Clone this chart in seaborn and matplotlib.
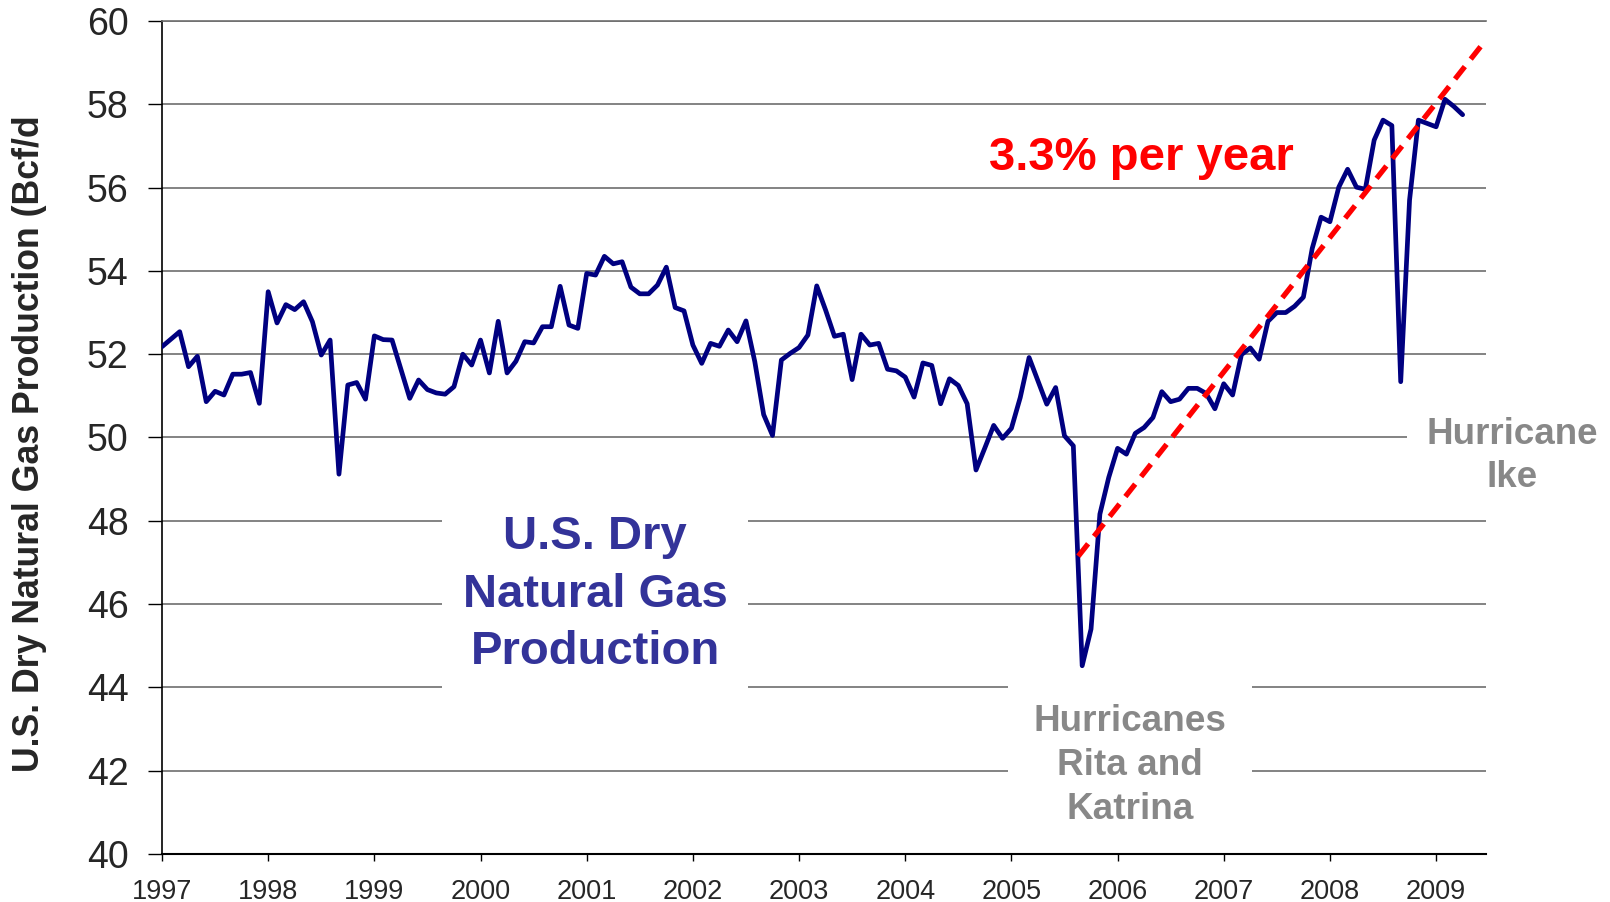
import numpy as np
import pandas as pd
import seaborn as sns
import matplotlib.pyplot as plt

# monthly dry gas production, Jan 1997 - Apr 2009 (Bcf/d)
production = [
    52.18, 52.36, 52.54, 51.70, 51.95, 50.86, 51.11, 51.02, 51.52, 51.52, 51.56, 50.82,  # 1997
    53.50, 52.75, 53.19, 53.07, 53.26, 52.78, 51.98, 52.34, 49.12, 51.26, 51.32, 50.92,  # 1998
    52.44, 52.35, 52.34, 51.64, 50.94, 51.38, 51.15, 51.07, 51.04, 51.22, 52.00, 51.74,  # 1999
    52.34, 51.55, 52.79, 51.55, 51.83, 52.30, 52.27, 52.66, 52.66, 53.63, 52.70, 52.62,  # 2000
    53.94, 53.90, 54.35, 54.17, 54.22, 53.61, 53.45, 53.45, 53.66, 54.09, 53.12, 53.04,  # 2001
    52.22, 51.78, 52.26, 52.19, 52.58, 52.30, 52.80, 51.82, 50.55, 50.05, 51.86, 52.02,  # 2002
    52.16, 52.46, 53.64, 53.06, 52.43, 52.48, 51.39, 52.48, 52.22, 52.26, 51.64, 51.60,  # 2003
    51.45, 50.97, 51.79, 51.73, 50.81, 51.41, 51.25, 50.81, 49.22, 49.75, 50.29, 49.98,  # 2004
    50.22, 50.96, 51.92, 51.36, 50.80, 51.20, 50.04, 49.80, 44.52, 45.40, 48.16, 49.04,  # 2005
    49.74, 49.60, 50.10, 50.24, 50.48, 51.10, 50.86, 50.92, 51.18, 51.18, 51.06, 50.69,  # 2006
    51.29, 51.02, 51.99, 52.15, 51.88, 52.79, 53.00, 53.00, 53.15, 53.37, 54.54, 55.29,  # 2007
    55.18, 56.01, 56.44, 56.01, 55.96, 57.14, 57.62, 57.49, 51.34, 55.70, 57.62, 57.54,  # 2008
    57.46, 58.12, 57.95, 57.75,                                                          # 2009
]
months = np.arange(len(production))
years = 1997 + months / 12

# straight trend line drawn on the chart
trend_x = [2005.63, 2009.43]
trend_y = [47.15, 59.42]

year_ticks = list(range(1997, 2010))
value_ticks = list(range(40, 61, 2))

df = pd.DataFrame({"year": years, "bcfd": production})
trend = pd.DataFrame({"year": trend_x, "bcfd": trend_y})

sns.set_style("white")
plt.rcParams["font.family"] = ["Liberation Sans", "DejaVu Sans"]

fig = plt.figure(figsize=(16.1, 9.02), dpi=100)
ax = fig.add_axes([162 / 1610, 1 - 854 / 902, (1486 - 162) / 1610, (854 - 21) / 902])

sns.lineplot(data=df, x="year", y="bcfd", color="#000080", lw=3.4, ax=ax, zorder=4)
sns.lineplot(data=trend, x="year", y="bcfd", color="#ff0000", lw=3.8,
             linestyle=(0, (3, 1.8)), ax=ax, zorder=5)

ax.set_xlim(1997, 2009.47)
ax.set_ylim(40, 60)
ax.set_xticks(year_ticks)
ax.set_yticks(value_ticks)
ax.set_xlabel("")
ax.set_ylabel("")

ax.set_axisbelow(True)
ax.yaxis.grid(True, color="#6e6e6e", lw=1.2)
ax.xaxis.grid(False)
ax.spines["right"].set_visible(False)
ax.spines["top"].set_color("#6e6e6e")
ax.spines["top"].set_linewidth(1.2)
ax.spines["left"].set_color("black")
ax.spines["bottom"].set_color("black")
ax.spines["left"].set_linewidth(1.2)
ax.spines["bottom"].set_linewidth(1.5)

ax.tick_params(axis="y", direction="out", length=10, width=1, color="black",
               labelsize=27, pad=14, left=True)
ax.tick_params(axis="x", direction="out", length=5, width=1, color="black",
               labelsize=19.5, pad=13, bottom=True)

# annotations
ax.text(2006.228, 56.71, "3.3% per year", color="#ff0000", fontsize=34,
        fontweight="bold", ha="center", va="center", zorder=6)
ax.text(2001.08, 46.23, "U.S. Dry\nNatural Gas\nProduction", color="#333399",
        fontsize=34, fontweight="bold", ha="center", va="center", linespacing=1.4,
        bbox=dict(boxstyle="square,pad=0.44", fc="white", ec="none"), zorder=2.2)
ax.text(2006.118, 42.12, "Hurricanes\nRita and\nKatrina", color="#888888",
        fontsize=26.6, fontweight="bold", ha="center", va="center", linespacing=1.34,
        bbox=dict(boxstyle="square,pad=0.7", fc="white", ec="none"), zorder=2.2)
ax.text(2009.72, 49.56, "Hurricane\nIke", color="#888888",
        fontsize=26.5, fontweight="bold", ha="center", va="center", linespacing=1.32,
        bbox=dict(boxstyle="square,pad=0.55", fc="white", ec="none"), zorder=2.2,
        clip_on=False)

fig.text(30 / 1610, 1 - 772 / 902, "U.S. Dry Natural Gas Production (Bcf/d",
         rotation=90, ha="center", va="bottom", fontsize=25.7, fontweight="bold")

fig.savefig("out.png", dpi=100)
